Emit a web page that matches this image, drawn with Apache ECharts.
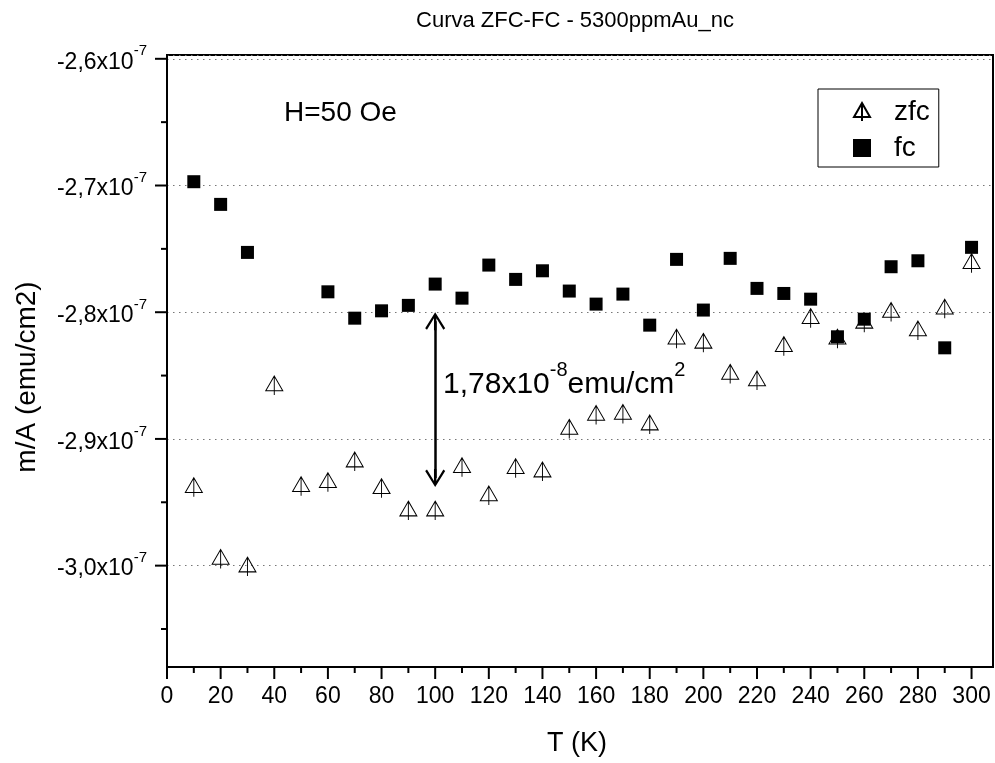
<!DOCTYPE html>
<html><head><meta charset="utf-8">
<script src="https://cdn.jsdelivr.net/npm/echarts@6/dist/echarts.min.js"></script>
<style>html,body{margin:0;padding:0;background:#fff}#c{width:995px;height:763px}</style>
</head><body><div id="c"></div>
<script>
// ---- data ----
const temperatures = [10,20,30,40,50,60,70,80,90,100,110,120,130,140,150,160,170,180,190,200,210,220,230,240,250,260,270,280,290,300];
const zfcValues = [-2.9366e-7,-2.9932e-7,-2.9992e-7,-2.8563e-7,-2.9358e-7,-2.9326e-7,-2.9163e-7,-2.9374e-7,-2.955e-7,-2.955e-7,
                   -2.9208e-7,-2.9431e-7,-2.9216e-7,-2.9242e-7,-2.8905e-7,-2.8795e-7,-2.8787e-7,-2.8871e-7,-2.8194e-7,-2.8226e-7,
                   -2.8471e-7,-2.8523e-7,-2.8252e-7,-2.8031e-7,-2.8194e-7,-2.8068e-7,-2.7983e-7,-2.8128e-7,-2.7957e-7,-2.7597e-7];
const fcTemperatures = [10,20,30,60,70,80,90,100,110,120,130,140,150,160,170,180,190,200,210,220,230,240,250,260,270,280,290,300];
const fcValues = [-2.697e-7,-2.7149e-7,-2.7528e-7,-2.7839e-7,-2.8047e-7,-2.7989e-7,-2.7946e-7,-2.7778e-7,-2.7889e-7,
                  -2.7628e-7,-2.7741e-7,-2.7673e-7,-2.7833e-7,-2.7936e-7,-2.7857e-7,-2.8102e-7,-2.7583e-7,-2.7983e-7,-2.7575e-7,
                  -2.7812e-7,-2.7852e-7,-2.7897e-7,-2.8194e-7,-2.8055e-7,-2.7641e-7,-2.7594e-7,-2.8281e-7,-2.7488e-7];
const xMajorTicks = [0,20,40,60,80,100,120,140,160,180,200,220,240,260,280,300];
const xMinorTicks = [10,30,50,70,90,110,130,150,170,190,210,230,250,270,290];
const yMajorTicks = [-3.0e-7,-2.9e-7,-2.8e-7,-2.7e-7,-2.6e-7];
const yMinorTicks = [-3.05e-7,-2.95e-7,-2.85e-7,-2.75e-7,-2.65e-7];
const yTickLabels = ['-3,0x10','-2,9x10','-2,8x10','-2,7x10','-2,6x10'];
const yTickExponent = '-7';
const xRange = [0, 308];
const yRange = [-3.08e-7, -2.597e-7];
const gapArrowT = 100;
const gapArrowTop = -2.8e-7;
const gapArrowBottom = -2.938e-7;
// ----------------

const FONT = '"Liberation Sans", Arial, sans-serif';
const chart = echarts.init(document.getElementById('c'), null, {renderer: 'canvas'});

const arrowHalf = 0.0071e-7; // half of arrow-head height in data units
const chevron = 'path://M10,0 L20,16 L18.2,17.6 L11.2,6 L11.2,18 L8.8,18 L8.8,6 L1.8,17.6 L0,16 Z';

function yLabel(v) {
  let idx = -1;
  yMajorTicks.forEach((t, i) => { if (Math.abs(t - v) < 1e-10) idx = i; });
  if (idx < 0) return '';
  return '{b|' + yTickLabels[idx] + '}{s|' + yTickExponent + '}';
}

// outward tick marks placed through the axis scales
function tickSeries(values, len, isX) {
  return {
    type: 'custom', clip: false, silent: true, z: 10,
    data: values.map(v => isX ? [v, yRange[0]] : [xRange[0], v]),
    renderItem: function (params, api) {
      const p = api.coord([api.value(0), api.value(1)]);
      const shape = isX ? {x1: p[0], y1: p[1], x2: p[0], y2: p[1] + len}
                        : {x1: p[0] - len, y1: p[1], x2: p[0], y2: p[1]};
      return {type: 'line', shape: shape, style: {stroke: '#000', lineWidth: 2}};
    }
  };
}

const option = {
  animation: false,
  backgroundColor: '#fff',
  textStyle: {fontFamily: FONT},
  grid: {left: 167, right: 2, top: 55, bottom: 96, show: true, borderColor: '#000', borderWidth: 2, backgroundColor: 'transparent'},
  xAxis: {
    type: 'value', min: xRange[0], max: xRange[1], position: 'bottom',
    axisLine: {show: true, onZero: false, lineStyle: {color: '#000', width: 2}},
    axisTick: {show: false},
    axisLabel: {show: true, customValues: xMajorTicks, margin: 18, color: '#000', fontSize: 23, fontFamily: FONT},
    splitLine: {show: false}
  },
  yAxis: {
    type: 'value', min: yRange[0], max: yRange[1], position: 'left',
    axisLine: {show: true, onZero: false, lineStyle: {color: '#000', width: 2}},
    axisTick: {show: false},
    axisLabel: {
      show: true, customValues: yMajorTicks, margin: 20, color: '#000', formatter: yLabel,
      rich: {
        b: {fontSize: 23, fontFamily: FONT, color: '#000', verticalAlign: 'bottom', lineHeight: 30},
        s: {fontSize: 15, fontFamily: FONT, color: '#000', verticalAlign: 'top', lineHeight: 15}
      }
    },
    splitLine: {show: true, lineStyle: {color: '#777', width: 1, type: [1.5, 4.5]}}
  },
  legend: {
    show: true, orient: 'vertical', left: 818, top: 89,
    data: ['zfc', 'fc'],
    borderColor: '#000', borderWidth: 1, padding: [9, 9, 5, 35], itemGap: 8,
    itemWidth: 18, itemHeight: 18,
    textStyle: {fontSize: 28, fontFamily: FONT, color: '#000', lineHeight: 28, padding: [0, 0, 0, 18]},
    selectedMode: false
  },
  series: [{
    name: 'zfc', type: 'scatter',
    data: temperatures.map((t, i) => [t, zfcValues[i]]),
    symbol: 'path://M8,0 L16,14 L0,14 Z M8,0 L8,18', symbolSize: [17, 19], symbolOffset: [0, 2],
    itemStyle: {color: 'rgba(255,255,255,0)', borderColor: '#000', borderWidth: 1, opacity: 1},
    emphasis: {disabled: true}, z: 2
  }, {
    name: 'fc', type: 'scatter',
    data: fcTemperatures.map((t, i) => [t, fcValues[i]]),
    symbol: 'rect', symbolSize: 13,
    itemStyle: {color: '#000', opacity: 1},
    emphasis: {disabled: true}, z: 3,
    markLine: {
      silent: true, animation: false,
      symbol: [chevron, chevron], symbolSize: [20, 18],
      lineStyle: {color: '#000', width: 2.5, type: 'solid'},
      label: {show: false},
      data: [[{coord: [gapArrowT, gapArrowTop - arrowHalf]}, {coord: [gapArrowT, gapArrowBottom + arrowHalf]}]]
    }
  },
    tickSeries(xMajorTicks, 12, true),
    tickSeries(xMinorTicks, 6, true),
    tickSeries(yMajorTicks, 12, false),
    tickSeries(yMinorTicks, 6, false)
  ],
  graphic: [
    {type: 'text', x: 575, y: 21, style: {text: 'Curva ZFC-FC - 5300ppmAu_nc', font: '22px ' + FONT, fill: '#000', align: 'center', verticalAlign: 'middle'}},
    {type: 'text', x: 284, y: 113, style: {text: 'H=50 Oe', font: '28px ' + FONT, fill: '#000', verticalAlign: 'middle'}},
    {type: 'text', x: 443, y: 380, style: {
      text: '{b|1,78x10}{s|-8}{b|emu/cm}{s|2}', verticalAlign: 'middle', fill: '#000',
      rich: {
        b: {fontSize: 30, fontFamily: FONT, fill: '#000', verticalAlign: 'bottom', lineHeight: 40},
        s: {fontSize: 20, fontFamily: FONT, fill: '#000', verticalAlign: 'top', lineHeight: 20}
      }
    }},
    {type: 'text', x: 577, y: 744, style: {text: 'T (K)', font: '27px ' + FONT, fill: '#000', align: 'center', verticalAlign: 'middle'}},
    {type: 'text', x: 27, y: 377, rotation: Math.PI / 2, style: {text: 'm/A (emu/cm2)', font: '28px ' + FONT, fill: '#000', align: 'center', verticalAlign: 'middle'}}
  ]
};
chart.setOption(option);
</script>
</body></html>
